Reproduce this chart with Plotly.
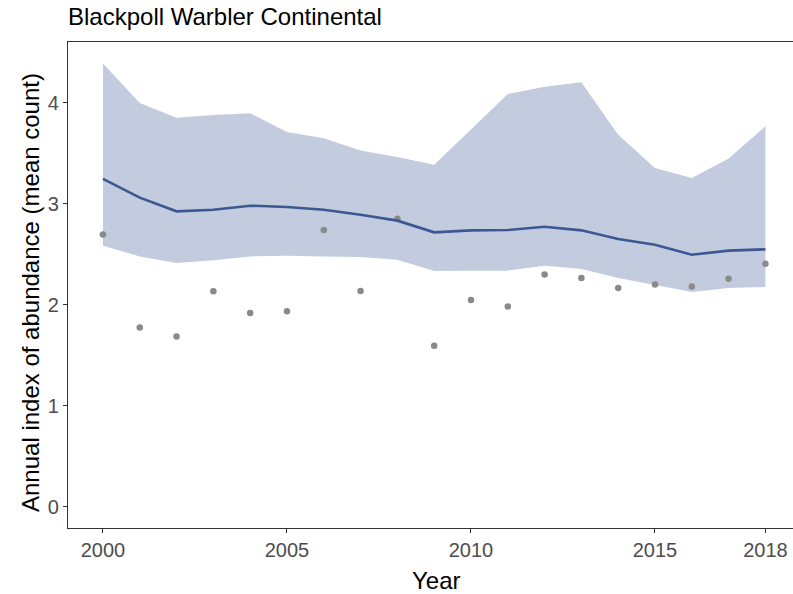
import plotly.graph_objects as go

years = list(range(2000, 2019))
index_line = [3.245, 3.06, 2.924, 2.94, 2.98, 2.967, 2.94, 2.891, 2.832, 2.716,
              2.736, 2.739, 2.772, 2.736, 2.65, 2.594, 2.495, 2.535, 2.548]
upper_ci = [4.386, 3.997, 3.851, 3.878, 3.894, 3.71, 3.647, 3.525, 3.462, 3.386,
            3.733, 4.086, 4.158, 4.201, 3.683, 3.353, 3.254, 3.446, 3.766]
lower_ci = [2.584, 2.478, 2.412, 2.439, 2.478, 2.485, 2.478, 2.472, 2.446, 2.333,
            2.337, 2.337, 2.386, 2.353, 2.264, 2.198, 2.126, 2.165, 2.175]
obs_mean = [2.696, 1.775, 1.686, 2.132, 1.917, 1.934, 2.739, 2.135, 2.851, 1.594,
            2.046, 1.983, 2.30, 2.264, 2.165, 2.201, 2.181, 2.257, 2.406]
x_ticks = [2000, 2005, 2010, 2015, 2018]
y_ticks = [0, 1, 2, 3, 4]

W, H = 793, 594
L, R, T, B = 68, 0, 42, 66

fig = go.Figure()
fig.add_trace(go.Scatter(x=years, y=lower_ci, mode="lines", line=dict(width=0),
                         hoverinfo="skip", showlegend=False))
fig.add_trace(go.Scatter(x=years, y=upper_ci, mode="lines", line=dict(width=0),
                         fill="tonexty", fillcolor="rgba(57,85,145,0.30)",
                         showlegend=False))
fig.add_trace(go.Scatter(x=years, y=obs_mean, mode="markers",
                         marker=dict(color="#8a8a8a", size=6.5), showlegend=False))
fig.add_trace(go.Scatter(x=years, y=index_line, mode="lines",
                         line=dict(color="#3b5893", width=2.6), showlegend=False))

FAM = "Liberation Sans, Arial, sans-serif"
axis_font = dict(family=FAM, size=20, color="#4d4d4d")
title_font = dict(family=FAM, size=24, color="black")

pw = W - L - R
ph = H - T - B

fig.update_layout(
    width=W, height=H,
    paper_bgcolor="white", plot_bgcolor="white",
    margin=dict(l=L, r=R, t=T, b=B, autoexpand=False),
    title=dict(text="Blackpoll Warbler Continental", x=L / W, xanchor="left",
               y=1 - 17 / H, yanchor="middle", automargin=False,
               font=dict(family=FAM, size=24, color="black")),
    xaxis=dict(range=[1999.05, 2018.75], tickvals=x_ticks, ticktext=[str(t) for t in x_ticks],
               showgrid=False, zeroline=False, showline=True, mirror=True,
               linecolor="#333333", linewidth=1.2, ticks="outside", ticklen=4,
               tickcolor="#333333", tickfont=axis_font, automargin=False),
    yaxis=dict(range=[-0.21, 4.6], tickvals=y_ticks, showgrid=False, zeroline=False,
               showline=True, linecolor="#333333", linewidth=1.2, ticks="outside",
               ticklen=4, tickcolor="#333333", tickfont=axis_font, automargin=False),
    annotations=[
        dict(text="Year", xref="paper", yref="paper",
             x=(436 - L) / pw, y=-(580 - (T + ph)) / ph,
             xanchor="center", yanchor="middle", showarrow=False, font=title_font),
        dict(text="Annual index of abundance (mean count)", xref="paper", yref="paper",
             x=-(L - 30) / pw, y=(T + ph - 293) / ph, textangle=-90,
             xanchor="center", yanchor="middle", showarrow=False, font=title_font),
    ],
)

fig.write_html("out.html", config={"displayModeBar": False},
               post_script="document.body.style.margin='0';document.body.style.overflow='hidden';")
